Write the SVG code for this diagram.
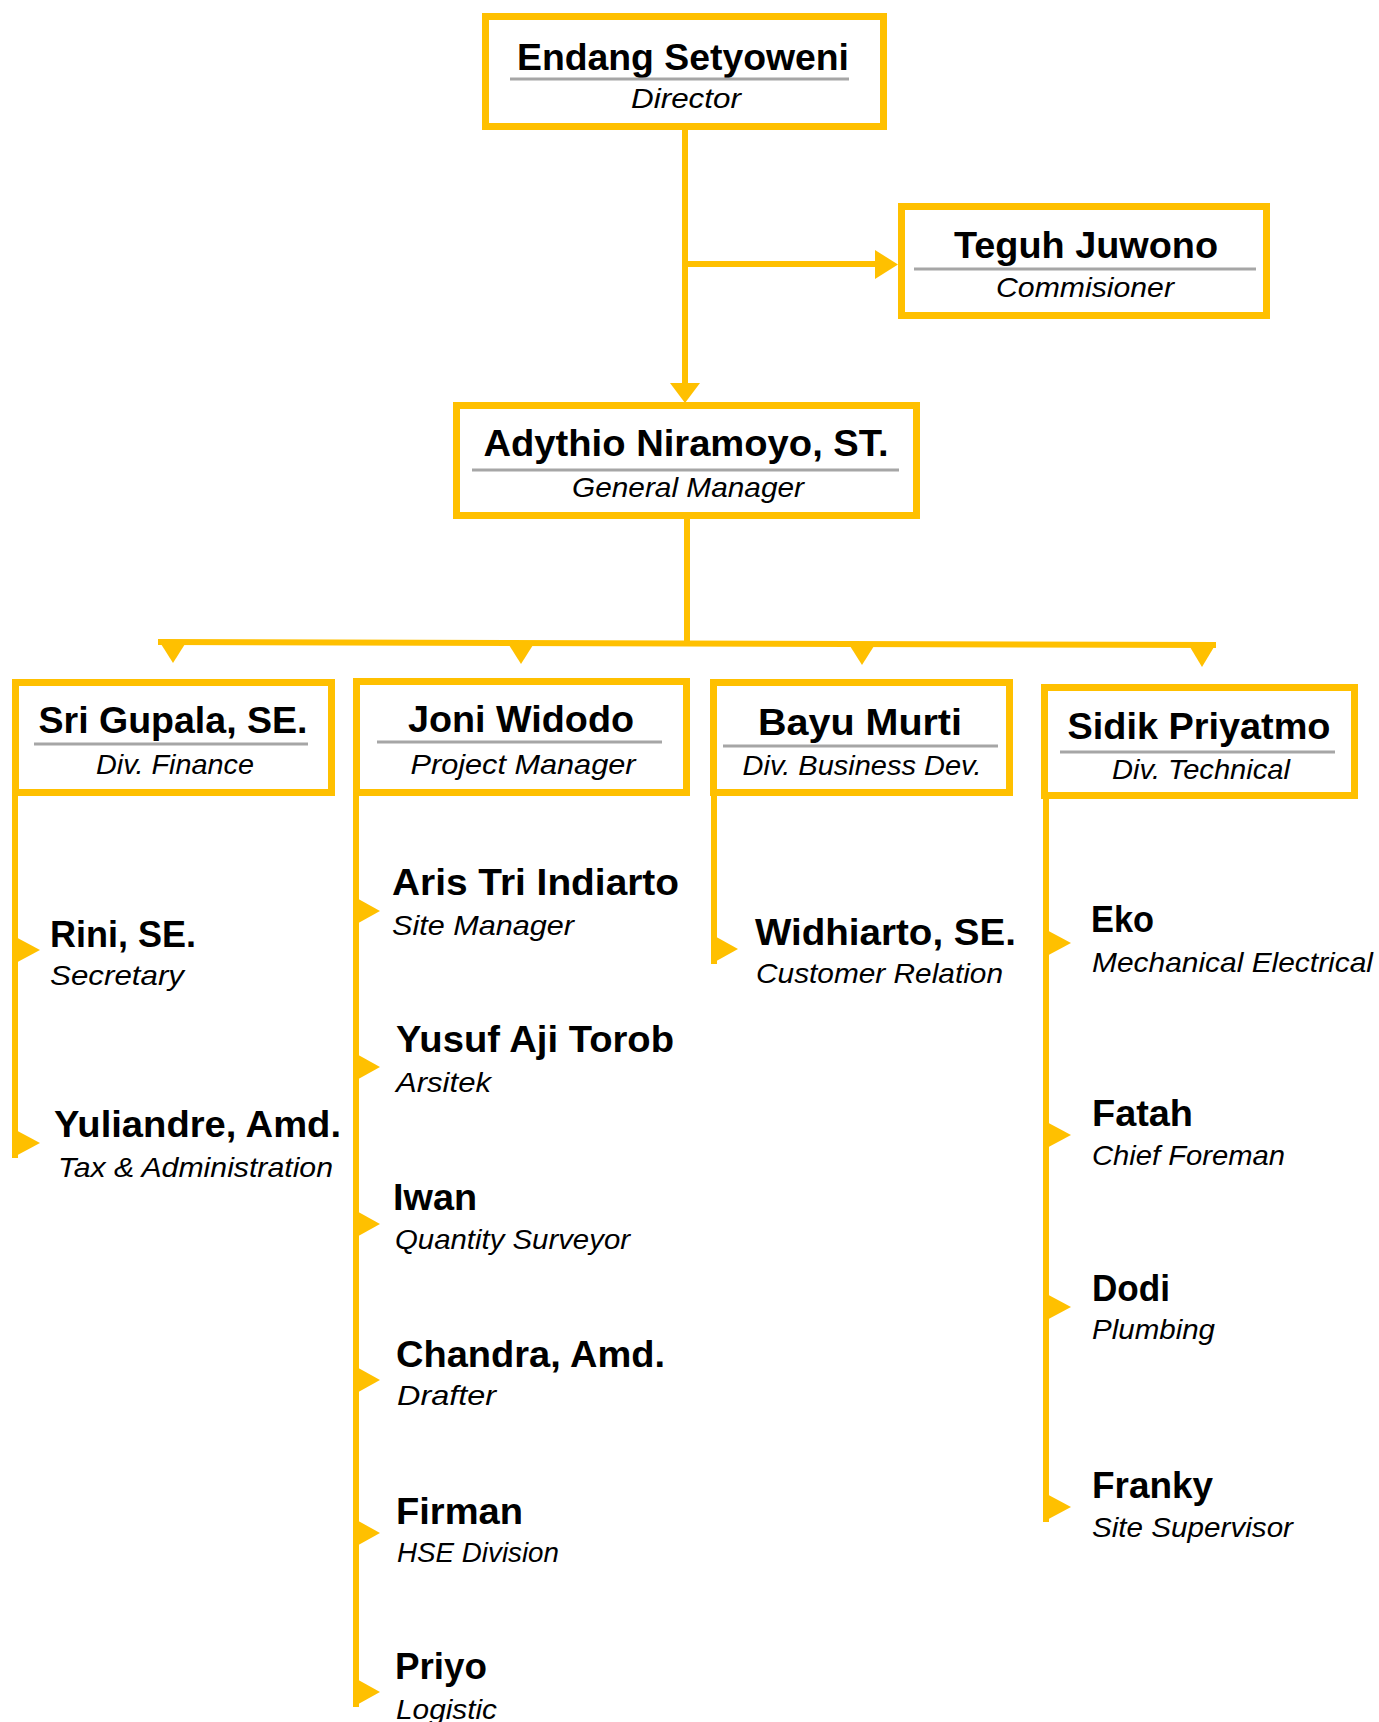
<svg xmlns="http://www.w3.org/2000/svg" width="1379" height="1722" viewBox="0 0 1379 1722">
<style>
.box{fill:#fff;stroke:#FFC000;stroke-width:7}
.rule{stroke:#A6A6A6;stroke-width:3}
.ln{stroke:#FFC000;stroke-width:6;fill:none}
.ah{fill:#FFC000}
.nm{font-family:"Liberation Sans",Arial,sans-serif;font-weight:bold;fill:#000}
.rl{font-family:"Liberation Sans",Arial,sans-serif;font-style:italic;fill:#000;font-size:28px}
.bn{font-size:37px;text-anchor:middle}
.ln2{font-size:37px}
.c{text-anchor:middle}
</style>
<rect width="1379" height="1722" fill="#fff"/>
<g id="connectors">
  <line class="ln" x1="685" y1="130" x2="685" y2="386"/>
  <line class="ln" x1="685" y1="264" x2="878" y2="264"/>
  <polygon class="ah" points="875,250 898,264.5 875,279"/>
  <polygon class="ah" points="670,383 700,383 685,403"/>
  <line class="ln" x1="687" y1="519" x2="687" y2="643"/>
  <polygon class="ah" points="158,639 1216,642 1216,648 158,645"/>
  <polygon class="ah" points="161,644 185,644 173,663"/>
  <polygon class="ah" points="509,645 533,645 521,664"/>
  <polygon class="ah" points="850,646 874,646 862,665"/>
  <polygon class="ah" points="1190,647 1214,647 1202,667"/>
  <!-- Finance column -->
  <line class="ln" x1="15" y1="796" x2="15" y2="1158"/>
  <polygon class="ah" points="12,935 40,950 12,965"/>
  <polygon class="ah" points="12,1128 40,1143 12,1158"/>
  <!-- Project column -->
  <line class="ln" x1="356" y1="796" x2="356" y2="1707"/>
  <polygon class="ah" points="353,896 380,911 353,926"/>
  <polygon class="ah" points="353,1052 380,1067 353,1082"/>
  <polygon class="ah" points="353,1209 380,1224 353,1239"/>
  <polygon class="ah" points="353,1365 380,1380 353,1395"/>
  <polygon class="ah" points="353,1518 380,1533 353,1548"/>
  <polygon class="ah" points="353,1677 380,1692 353,1707"/>
  <!-- Business column -->
  <line class="ln" x1="714" y1="796" x2="714" y2="964"/>
  <polygon class="ah" points="711,934 738,949 711,964"/>
  <!-- Technical column -->
  <line class="ln" x1="1046" y1="799" x2="1046" y2="1522"/>
  <polygon class="ah" points="1043,928 1071,943 1043,958"/>
  <polygon class="ah" points="1043,1120 1071,1135 1043,1150"/>
  <polygon class="ah" points="1043,1292 1071,1307 1043,1322"/>
  <polygon class="ah" points="1043,1492 1071,1507 1043,1522"/>
</g>
<g id="director">
  <rect class="box" x="485.5" y="16.5" width="398" height="110"/>
  <text class="nm bn" x="683" y="70" font-size="38" textLength="332" lengthAdjust="spacingAndGlyphs">Endang Setyoweni</text>
  <line class="rule" x1="510" y1="79" x2="849" y2="79"/>
  <text class="rl c" x="686" y="108" textLength="110" lengthAdjust="spacingAndGlyphs">Director</text>
</g>
<g id="commissioner">
  <rect class="box" x="901.5" y="206.5" width="365" height="109"/>
  <text class="nm bn" x="1086" y="258" font-size="38" textLength="264" lengthAdjust="spacingAndGlyphs">Teguh Juwono</text>
  <line class="rule" x1="914" y1="269" x2="1256" y2="269"/>
  <text class="rl c" x="1085" y="297" textLength="178" lengthAdjust="spacingAndGlyphs">Commisioner</text>
</g>
<g id="general-manager">
  <rect class="box" x="456.5" y="405.5" width="460" height="110"/>
  <text class="nm bn" x="686" y="456" textLength="405" lengthAdjust="spacingAndGlyphs">Adythio Niramoyo, ST.</text>
  <line class="rule" x1="472" y1="470" x2="899" y2="470"/>
  <text class="rl c" x="688" y="497" textLength="232" lengthAdjust="spacingAndGlyphs">General Manager</text>
</g>
<g id="div-finance">
  <rect class="box" x="15.5" y="682.5" width="316" height="110"/>
  <text class="nm bn" x="173" y="733" font-size="36" textLength="269" lengthAdjust="spacingAndGlyphs">Sri Gupala, SE.</text>
  <line class="rule" x1="34" y1="744" x2="308" y2="744"/>
  <text class="rl c" x="175" y="774" textLength="158" lengthAdjust="spacingAndGlyphs">Div. Finance</text>
</g>
<g id="project-manager">
  <rect class="box" x="356.5" y="681.5" width="330" height="111"/>
  <text class="nm bn" x="521" y="732" font-size="36" textLength="226" lengthAdjust="spacingAndGlyphs">Joni Widodo</text>
  <line class="rule" x1="377" y1="742" x2="662" y2="742"/>
  <text class="rl c" x="523" y="774" textLength="225" lengthAdjust="spacingAndGlyphs">Project Manager</text>
</g>
<g id="div-business">
  <rect class="box" x="713.5" y="682.5" width="296" height="110"/>
  <text class="nm bn" x="860" y="735" textLength="204" lengthAdjust="spacingAndGlyphs">Bayu Murti</text>
  <line class="rule" x1="723" y1="746" x2="998" y2="746"/>
  <text class="rl c" x="862" y="775" textLength="239" lengthAdjust="spacingAndGlyphs">Div. Business Dev.</text>
</g>
<g id="div-technical">
  <rect class="box" x="1044.5" y="687.5" width="310" height="108"/>
  <text class="nm bn" x="1199" y="739" textLength="263" lengthAdjust="spacingAndGlyphs">Sidik Priyatmo</text>
  <line class="rule" x1="1060" y1="752" x2="1335" y2="752"/>
  <text class="rl c" x="1201" y="779" textLength="178" lengthAdjust="spacingAndGlyphs">Div. Technical</text>
</g>
<g id="rini">
  <text class="nm ln2" x="50" y="947" textLength="146" lengthAdjust="spacingAndGlyphs">Rini, SE.</text>
  <text class="rl" x="50" y="985" textLength="134" lengthAdjust="spacingAndGlyphs">Secretary</text>
</g>
<g id="yuliandre">
  <text class="nm ln2" x="54" y="1137" textLength="287" lengthAdjust="spacingAndGlyphs">Yuliandre, Amd.</text>
  <text class="rl" x="58" y="1177" textLength="275" lengthAdjust="spacingAndGlyphs">Tax &amp; Administration</text>
</g>
<g id="aris">
  <text class="nm ln2" x="392" y="895" textLength="287" lengthAdjust="spacingAndGlyphs">Aris Tri Indiarto</text>
  <text class="rl" x="392" y="935" textLength="182" lengthAdjust="spacingAndGlyphs">Site Manager</text>
</g>
<g id="yusuf">
  <text class="nm ln2" x="396" y="1052" textLength="278" lengthAdjust="spacingAndGlyphs">Yusuf Aji Torob</text>
  <text class="rl" x="396" y="1092" textLength="95" lengthAdjust="spacingAndGlyphs">Arsitek</text>
</g>
<g id="iwan">
  <text class="nm ln2" x="393" y="1210" textLength="84" lengthAdjust="spacingAndGlyphs">Iwan</text>
  <text class="rl" x="395" y="1249" textLength="235" lengthAdjust="spacingAndGlyphs">Quantity Surveyor</text>
</g>
<g id="chandra">
  <text class="nm ln2" x="396" y="1367" textLength="269" lengthAdjust="spacingAndGlyphs">Chandra, Amd.</text>
  <text class="rl" x="397" y="1405" textLength="99" lengthAdjust="spacingAndGlyphs">Drafter</text>
</g>
<g id="firman">
  <text class="nm ln2" x="396" y="1524" textLength="127" lengthAdjust="spacingAndGlyphs">Firman</text>
  <text class="rl" x="397" y="1562" textLength="162" lengthAdjust="spacingAndGlyphs">HSE Division</text>
</g>
<g id="priyo">
  <text class="nm ln2" x="395" y="1679" textLength="92" lengthAdjust="spacingAndGlyphs">Priyo</text>
  <text class="rl" x="396" y="1719" textLength="101" lengthAdjust="spacingAndGlyphs">Logistic</text>
</g>
<g id="widhiarto">
  <text class="nm ln2" x="755" y="945" textLength="261" lengthAdjust="spacingAndGlyphs">Widhiarto, SE.</text>
  <text class="rl" x="756" y="983" textLength="247" lengthAdjust="spacingAndGlyphs">Customer Relation</text>
</g>
<g id="eko">
  <text class="nm ln2" x="1091" y="932" textLength="63" lengthAdjust="spacingAndGlyphs">Eko</text>
  <text class="rl" x="1092" y="972" textLength="281" lengthAdjust="spacingAndGlyphs">Mechanical Electrical</text>
</g>
<g id="fatah">
  <text class="nm ln2" x="1092" y="1126" textLength="101" lengthAdjust="spacingAndGlyphs">Fatah</text>
  <text class="rl" x="1092" y="1165" textLength="193" lengthAdjust="spacingAndGlyphs">Chief Foreman</text>
</g>
<g id="dodi">
  <text class="nm ln2" x="1092" y="1301" textLength="78" lengthAdjust="spacingAndGlyphs">Dodi</text>
  <text class="rl" x="1092" y="1339" textLength="123" lengthAdjust="spacingAndGlyphs">Plumbing</text>
</g>
<g id="franky">
  <text class="nm ln2" x="1092" y="1498" textLength="121" lengthAdjust="spacingAndGlyphs">Franky</text>
  <text class="rl" x="1092" y="1537" textLength="201" lengthAdjust="spacingAndGlyphs">Site Supervisor</text>
</g>
</svg>
